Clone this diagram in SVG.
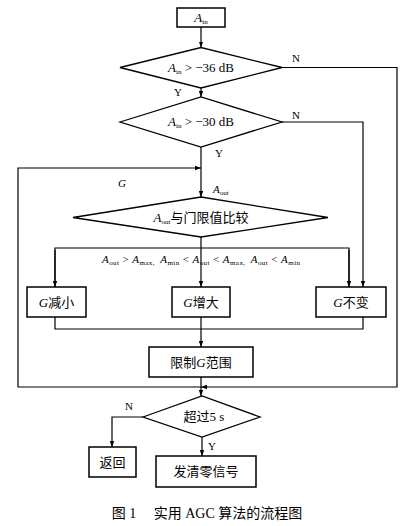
<svg xmlns="http://www.w3.org/2000/svg" width="408" height="526" viewBox="0 0 408 526">
<style>
.box{fill:#fff;stroke:#000;stroke-width:1.5}
.dia{fill:#fff;stroke:#000;stroke-width:1.3}
.ln{fill:none;stroke:#000;stroke-width:1.2}
text{font-family:"Liberation Serif","Noto Sans CJK SC",serif;fill:#000}
.t{font-size:13px;text-anchor:middle}
.lb{font-size:11px}
.i{font-style:italic}
.s{font-size:7px}
</style>
<defs>
<marker id="ah" viewBox="0 0 6 6" refX="6" refY="3" markerWidth="6" markerHeight="6" orient="auto" markerUnits="userSpaceOnUse">
<path d="M0,0.8 L6,3 L0,5.2 Z" fill="#000"/>
</marker>
</defs>
<rect width="408" height="526" fill="#fff"/>
<g id="connectors">
<path class="ln" d="M201,27 V47.5" marker-end="url(#ah)"/>
<path class="ln" d="M201,88 V97" marker-end="url(#ah)"/>
<path class="ln" d="M282,67.5 H397 V387 H201" marker-end="url(#ah)"/>
<path class="ln" d="M282,122 H363 V287" marker-end="url(#ah)"/>
<path class="ln" d="M201,147 V197" marker-end="url(#ah)"/>
<path class="ln" d="M201,387 H18 V168 H201" marker-end="url(#ah)"/>
<path class="ln" d="M201,237 V287" marker-end="url(#ah)"/>
<path class="ln" d="M55,287 V248 H349 V287" />
<path class="ln" d="M55,250 V287" marker-end="url(#ah)"/>
<path class="ln" d="M349,250 V287" marker-end="url(#ah)"/>
<path class="ln" d="M55,317 V329 H363 V317"/>
<path class="ln" d="M201,317 V347" marker-end="url(#ah)"/>
<path class="ln" d="M201,377 V396" marker-end="url(#ah)"/>
<path class="ln" d="M143,417 H112 V447" marker-end="url(#ah)"/>
<path class="ln" d="M202,437 V456" marker-end="url(#ah)"/>
<text class="lb" x="292" y="62">N</text>
<text class="lb" x="292" y="119">N</text>
<text class="lb" x="174" y="96">Y</text>
<text class="lb" x="215" y="157">Y</text>
<text class="lb i" x="118" y="187" font-size="12">G</text>
<text class="lb" x="213" y="193"><tspan class="i">A</tspan><tspan class="s" dy="2">out</tspan></text>
<text class="lb" x="102" y="263" font-size="12" textLength="198" lengthAdjust="spacing"><tspan class="i">A</tspan><tspan class="s" dy="2">out</tspan><tspan dy="-2">&#160;&gt;&#160;</tspan><tspan class="i">A</tspan><tspan class="s" dy="2">max,&#160;</tspan><tspan dy="-2">&#160;</tspan><tspan class="i">A</tspan><tspan class="s" dy="2">min</tspan><tspan dy="-2">&#160;&lt;&#160;</tspan><tspan class="i">A</tspan><tspan class="s" dy="2">out</tspan><tspan dy="-2">&#160;&lt;&#160;</tspan><tspan class="i">A</tspan><tspan class="s" dy="2">max,&#160;</tspan><tspan dy="-2">&#160;</tspan><tspan class="i">A</tspan><tspan class="s" dy="2">out</tspan><tspan dy="-2">&#160;&lt;&#160;</tspan><tspan class="i">A</tspan><tspan class="s" dy="2">min</tspan></text>
<text class="lb" x="125" y="410">N</text>
<text class="lb" x="208" y="450">Y</text>
</g>
<g id="ain">
<rect class="box" x="177" y="8" width="48" height="19"/>
<text class="t" x="201" y="22" font-size="12"><tspan class="i">A</tspan><tspan class="s" dy="2">in</tspan></text>
</g>
<g id="d1">
<polygon class="dia" points="120,67.5 201,47.5 282,67.5 201,88"/>
<text class="t" x="201" y="72" font-size="12"><tspan class="i">A</tspan><tspan class="s" dy="2">in</tspan><tspan dy="-2">&#160;&gt;&#160;−36 dB</tspan></text>
</g>
<g id="d2">
<polygon class="dia" points="120,122 201,97 282,122 201,147"/>
<text class="t" x="201" y="126" font-size="12"><tspan class="i">A</tspan><tspan class="s" dy="2">in</tspan><tspan dy="-2">&#160;&gt;&#160;−30 dB</tspan></text>
</g>
<g id="d3">
<polygon class="dia" points="73,217.5 201,197 328,217.5 201,237"/>
<text class="t" x="201" y="222"><tspan class="i">A</tspan><tspan class="s" dy="2">out</tspan><tspan dy="-2">与门限值比较</tspan></text>
</g>
<g id="dec">
<rect class="box" x="27" y="287" width="59" height="30"/>
<text class="t" x="56.5" y="307"><tspan class="i">G</tspan>减小</text>
</g>
<g id="inc">
<rect class="box" x="172" y="287" width="58" height="30"/>
<text class="t" x="201" y="307"><tspan class="i">G</tspan>增大</text>
</g>
<g id="keep">
<rect class="box" x="316" y="287" width="70" height="30"/>
<text class="t" x="351" y="307"><tspan class="i">G</tspan>不变</text>
</g>
<g id="limit">
<rect class="box" x="149" y="347" width="104" height="30"/>
<text class="t" x="201" y="367">限制<tspan class="i">G</tspan>范围</text>
</g>
<g id="d4">
<polygon class="dia" points="143,417 202,396 260,417 202,437"/>
<text class="t" x="204" y="421">超过5 s</text>
</g>
<g id="ret">
<rect class="box" x="89" y="447" width="47" height="30"/>
<text class="t" x="112.5" y="467">返回</text>
</g>
<g id="clear">
<rect class="box" x="156" y="456" width="100" height="31"/>
<text class="t" x="206" y="476">发清零信号</text>
</g>
<text x="207" y="518" font-size="14" text-anchor="middle">图 1　 实用 AGC 算法的流程图</text>
</svg>
